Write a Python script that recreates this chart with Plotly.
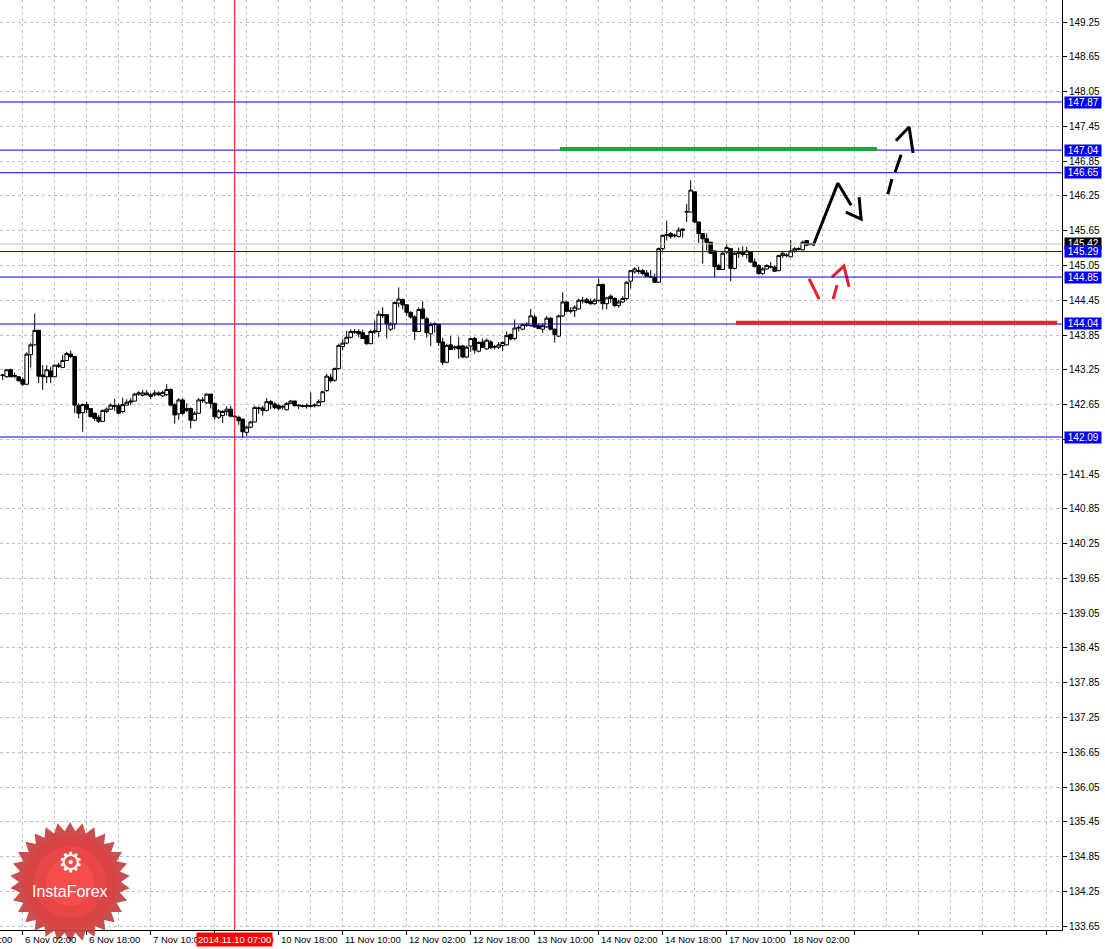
import math
import plotly.graph_objects as go

# hourly candles, bar 0 = 5 Nov 21:00 ... bar 202 = 18 Nov 07:00
opens = [
    143.15, 143.13, 143.25, 143.15, 143.13, 143.08, 143.00, 143.51, 143.68, 143.93,
    143.16, 143.13, 143.23, 143.13, 143.33, 143.29, 143.41, 143.52, 143.48, 142.63,
    142.51, 142.65, 142.58, 142.50, 142.43, 142.36, 142.53, 142.57, 142.63, 142.63,
    142.53, 142.64, 142.69, 142.71, 142.83, 142.81, 142.85, 142.79, 142.82, 142.85,
    142.80, 142.82, 142.91, 142.65, 142.49, 142.73, 142.58, 142.58, 142.38, 142.50,
    142.73, 142.68, 142.83, 142.67, 142.43, 142.46, 142.53, 142.57, 142.45, 142.43,
    142.40, 142.17, 142.26, 142.35, 142.58, 142.59, 142.55, 142.70, 142.66, 142.63,
    142.62, 142.56, 142.67, 142.71, 142.64, 142.63, 142.62, 142.63, 142.63, 142.63,
    142.70, 142.89, 143.12, 143.07, 143.27, 143.65, 143.71, 143.81, 143.91, 143.91,
    143.89, 143.84, 143.70, 143.90, 143.91, 144.20, 144.20, 143.95, 144.04, 144.40,
    144.46, 144.37, 144.24, 144.16, 143.91, 144.30, 144.13, 143.87, 144.03, 144.03,
    143.73, 143.38, 143.68, 143.63, 143.66, 143.66, 143.47, 143.66, 143.79, 143.57,
    143.73, 143.61, 143.73, 143.64, 143.64, 143.67, 143.68, 143.86, 143.79, 143.97,
    143.95, 144.03, 144.01, 144.16, 144.01, 143.95, 143.99, 144.14, 143.95, 143.83,
    144.18, 144.42, 144.26, 144.27, 144.30, 144.45, 144.46, 144.43, 144.39, 144.45,
    144.72, 144.39, 144.52, 144.48, 144.36, 144.42, 144.48, 144.78, 144.94, 144.96,
    144.96, 144.92, 144.86, 144.84, 144.76, 145.34, 145.57, 145.60, 145.56, 145.55,
    145.68, 145.97, 145.97, 146.32, 145.80, 145.60, 145.51, 145.45, 145.30, 145.05,
    144.98, 145.28, 145.34, 145.00, 145.26, 145.28, 145.24, 145.28, 145.11, 145.05,
    144.91, 144.99, 145.02, 145.02, 144.96, 145.22, 145.23, 145.20, 145.30, 145.34,
    145.32, 145.48, 145.41,
]
highs = [
    143.18, 143.26, 143.27, 143.20, 143.14, 143.12, 143.55, 143.71, 144.22, 143.93,
    143.33, 143.33, 143.30, 143.34, 143.37, 143.51, 143.56, 143.58, 143.49, 142.67,
    142.67, 142.70, 142.58, 142.51, 142.47, 142.56, 142.60, 142.67, 142.75, 142.67,
    142.77, 142.74, 142.76, 142.85, 142.88, 142.90, 142.90, 142.85, 142.90, 142.88,
    142.89, 143.00, 142.93, 142.67, 142.76, 142.76, 142.67, 142.60, 142.53, 142.76,
    142.78, 142.84, 142.83, 142.68, 142.57, 142.56, 142.62, 142.63, 142.47, 142.46,
    142.40, 142.29, 142.37, 142.63, 142.62, 142.63, 142.76, 142.73, 142.69, 142.66,
    142.64, 142.69, 142.73, 142.72, 142.66, 142.65, 142.67, 142.86, 142.67, 142.74,
    142.89, 143.18, 143.18, 143.29, 143.70, 143.78, 143.92, 143.95, 143.95, 143.95,
    143.94, 143.85, 143.94, 144.10, 144.27, 144.33, 144.21, 144.07, 144.43, 144.67,
    144.48, 144.38, 144.26, 144.19, 144.33, 144.43, 144.16, 144.07, 144.07, 144.05,
    143.80, 143.70, 143.83, 143.67, 143.82, 143.68, 143.67, 143.80, 143.82, 143.74,
    143.79, 143.79, 143.76, 143.68, 143.73, 143.74, 143.91, 143.87, 144.12, 144.02,
    144.05, 144.07, 144.30, 144.20, 144.05, 144.05, 144.18, 144.16, 143.96, 144.20,
    144.59, 144.43, 144.33, 144.36, 144.48, 144.51, 144.49, 144.48, 144.48, 144.82,
    144.74, 144.51, 144.55, 144.50, 144.46, 144.52, 144.78, 144.97, 145.02, 145.03,
    144.99, 144.97, 144.97, 144.91, 145.36, 145.58, 145.82, 145.63, 145.60, 145.71,
    145.68, 146.11, 146.52, 146.32, 145.80, 145.60, 145.60, 145.46, 145.31, 145.08,
    145.28, 145.43, 145.34, 145.28, 145.36, 145.38, 145.37, 145.30, 145.17, 145.07,
    145.02, 145.07, 145.11, 145.05, 145.23, 145.30, 145.26, 145.49, 145.37, 145.36,
    145.48, 145.49, 145.43,
]
lows = [
    143.07, 143.11, 143.12, 143.10, 143.04, 142.97, 142.99, 143.29, 143.67, 143.02,
    142.90, 143.02, 143.02, 143.12, 143.28, 143.29, 143.41, 143.45, 142.50, 142.41,
    142.18, 142.50, 142.43, 142.37, 142.33, 142.35, 142.50, 142.56, 142.54, 142.49,
    142.50, 142.64, 142.64, 142.70, 142.80, 142.79, 142.81, 142.74, 142.79, 142.80,
    142.78, 142.80, 142.62, 142.32, 142.39, 142.47, 142.52, 142.24, 142.36, 142.49,
    142.68, 142.66, 142.58, 142.39, 142.40, 142.33, 142.46, 142.43, 142.43, 142.30,
    142.08, 142.11, 142.24, 142.34, 142.49, 142.46, 142.53, 142.57, 142.57, 142.55,
    142.56, 142.55, 142.66, 142.62, 142.57, 142.60, 142.58, 142.60, 142.60, 142.62,
    142.69, 142.87, 143.03, 143.04, 143.25, 143.59, 143.69, 143.79, 143.87, 143.81,
    143.78, 143.68, 143.69, 143.87, 143.81, 144.14, 143.79, 143.92, 143.95, 144.33,
    144.29, 144.18, 144.13, 143.76, 143.90, 144.12, 143.80, 143.66, 143.89, 143.66,
    143.33, 143.36, 143.59, 143.59, 143.44, 143.45, 143.45, 143.56, 143.53, 143.55,
    143.63, 143.60, 143.61, 143.60, 143.61, 143.57, 143.67, 143.76, 143.76, 143.91,
    143.93, 143.99, 143.99, 143.97, 143.95, 143.89, 143.97, 143.93, 143.72, 143.82,
    144.16, 144.24, 144.22, 144.16, 144.29, 144.39, 144.39, 144.37, 144.37, 144.42,
    144.29, 144.29, 144.41, 144.33, 144.32, 144.40, 144.45, 144.65, 144.91, 144.90,
    144.88, 144.85, 144.84, 144.75, 144.75, 145.30, 145.48, 145.51, 145.53, 145.53,
    145.53, 145.80, 145.97, 145.78, 145.44, 145.08, 145.31, 145.25, 144.85, 144.97,
    144.97, 145.25, 144.78, 144.98, 145.18, 145.20, 145.17, 145.09, 145.02, 144.89,
    144.89, 144.98, 145.00, 144.94, 144.95, 145.18, 145.19, 145.19, 145.27, 145.31,
    145.31, 145.38, 145.40,
]
closes = [
    143.16, 143.25, 143.13, 143.14, 143.06, 143.00, 143.52, 143.68, 143.93, 143.14,
    143.13, 143.25, 143.13, 143.33, 143.31, 143.41, 143.53, 143.48, 142.64, 142.50,
    142.65, 142.57, 142.44, 142.41, 142.36, 142.55, 142.57, 142.64, 142.62, 142.50,
    142.65, 142.69, 142.71, 142.83, 142.85, 142.85, 142.82, 142.82, 142.85, 142.82,
    142.86, 142.91, 142.64, 142.47, 142.73, 142.50, 142.55, 142.38, 142.50, 142.73,
    142.72, 142.83, 142.67, 142.44, 142.54, 142.53, 142.57, 142.45, 142.44, 142.37,
    142.18, 142.26, 142.35, 142.60, 142.59, 142.55, 142.70, 142.66, 142.60, 142.58,
    142.61, 142.67, 142.71, 142.63, 142.63, 142.62, 142.63, 142.62, 142.64, 142.70,
    142.87, 143.14, 143.06, 143.27, 143.67, 143.71, 143.81, 143.91, 143.90, 143.87,
    143.79, 143.70, 143.91, 143.92, 144.21, 144.19, 144.04, 144.04, 144.41, 144.47,
    144.37, 144.24, 144.16, 143.91, 144.29, 144.14, 143.89, 144.03, 144.04, 143.72,
    143.38, 143.67, 143.60, 143.64, 143.61, 143.47, 143.64, 143.79, 143.59, 143.72,
    143.64, 143.76, 143.63, 143.65, 143.68, 143.72, 143.84, 143.78, 143.97, 143.98,
    144.03, 144.02, 144.18, 143.99, 143.96, 144.01, 144.14, 143.95, 143.86, 144.18,
    144.42, 144.26, 144.27, 144.33, 144.45, 144.44, 144.41, 144.39, 144.45, 144.72,
    144.39, 144.49, 144.48, 144.36, 144.42, 144.48, 144.76, 144.96, 144.99, 144.95,
    144.91, 144.86, 144.85, 144.76, 145.34, 145.57, 145.58, 145.55, 145.57, 145.66,
    145.66, 145.98, 146.35, 145.80, 145.60, 145.51, 145.45, 145.26, 145.03, 144.98,
    145.26, 145.36, 145.00, 145.26, 145.27, 145.24, 145.30, 145.11, 145.03, 144.91,
    144.99, 145.05, 145.03, 144.95, 145.22, 145.26, 145.22, 145.30, 145.34, 145.33,
    145.45, 145.40, 145.42,
]
bars = list(range(len(closes)))

# time axis labels (bar index where each label starts)
label_bars = [-11, 5, 21, 37, 53, 69, 85, 101, 117, 133, 149, 165, 181, 197]
label_text = ["5 Nov 10:00", "6 Nov 02:00", "6 Nov 18:00", "7 Nov 10:00",
              "10 Nov 02:00", "10 Nov 18:00", "11 Nov 10:00", "12 Nov 02:00",
              "12 Nov 18:00", "13 Nov 10:00", "14 Nov 02:00", "14 Nov 18:00",
              "17 Nov 10:00", "18 Nov 02:00"]

# levels drawn on the chart
level_prices = [147.87, 147.04, 146.65, 145.29, 144.85, 144.04, 142.09]
bid_price = 145.42
cursor_bar = 58
cursor_label = "2014.11.10 07:00"

green_bars = [139.3, 218.6]
green_price = 147.06
red_bars = [183.3, 263.6]
red_price = 144.06

# hand drawn arrows: (bar, price) pieces
black_solid = [[(202.6, 145.39), (208.8, 146.47), (212.1, 146.09)],
               [(210.8, 145.97), (214.6, 145.85), (214.1, 146.23)]]
black_dashed = [[(221.3, 146.28), (222.3, 146.54)],
                [(223.1, 146.66), (224.6, 146.96)],
                [(223.3, 147.20), (226.6, 147.44), (227.6, 146.99)]]
red_dashed = [[(201.6, 144.82), (204.1, 144.47)],
              [(207.6, 144.47), (208.6, 144.71)],
              [(207.3, 144.85), (210.3, 145.04), (211.6, 144.68)]]

W, H = 1105, 949
PW, PH = 1062, 930
x0 = -0.675
x1 = x0 + PW / 4.0
y0, y1 = 133.584, 149.63
FONT = "Liberation Sans, Arial, sans-serif"
NBSP = "\u00a0"


def bar_to_paper(b):
    return (b - x0) / (x1 - x0)


fig = go.Figure()

fig.add_trace(go.Candlestick(
    x=bars, open=opens, high=highs, low=lows, close=closes,
    increasing=dict(fillcolor="white", line=dict(color="black", width=1)),
    decreasing=dict(fillcolor="black", line=dict(color="black", width=1)),
    whiskerwidth=0,
    showlegend=False,
))


def pieces_xy(pieces):
    xs, ys = [], []
    for p in pieces:
        for b, v in p:
            xs.append(b)
            ys.append(v)
        xs.append(None)
        ys.append(None)
    return xs, ys


for pieces, col in [(black_solid, "black"), (black_dashed, "black"), (red_dashed, "#e8202a")]:
    xs, ys = pieces_xy(pieces)
    fig.add_trace(go.Scatter(x=xs, y=ys, mode="lines", line=dict(color=col, width=3),
                             showlegend=False, hoverinfo="skip"))

shapes = []
# bid line
shapes.append(dict(type="line", xref="paper", x0=0, x1=1, y0=bid_price, y1=bid_price,
                   line=dict(color="#c0c0c0", width=1)))
for lv in level_prices:
    shapes.append(dict(type="line", xref="paper", x0=0, x1=1, y0=lv, y1=lv,
                       line=dict(color="#0000ff", width=1)))
shapes.append(dict(type="line", x0=cursor_bar, x1=cursor_bar, yref="paper", y0=0, y1=1,
                   line=dict(color="#ff0000", width=1)))
shapes.append(dict(type="line", x0=green_bars[0], x1=green_bars[1], y0=green_price, y1=green_price,
                   line=dict(color="#1fa33c", width=4)))
shapes.append(dict(type="line", x0=red_bars[0], x1=red_bars[1], y0=red_price, y1=red_price,
                   line=dict(color="#e8262c", width=4)))

# InstaForex badge (bottom-left)
cx, cy = 70.0, 882.0


def star_path(r_out, r_in, n):
    pts = []
    for k in range(2 * n):
        r = r_out if k % 2 == 0 else r_in
        a = math.pi * k / n
        px = cx + r * math.sin(a)
        py = cy - r * math.cos(a)
        pts.append((px / PW, 1 - py / PH))
    return "M " + " L ".join(f"{a:.5f},{b:.5f}" for a, b in pts) + " Z"


shapes.append(dict(type="path", xref="paper", yref="paper", path=star_path(60, 51, 30),
                   fillcolor="rgba(200,62,62,0.92)", line=dict(width=0)))
for r, c in [(47, "rgba(218,66,66,0.95)"), (36, "rgba(234,72,72,0.95)"), (24, "rgba(248,78,76,0.95)")]:
    shapes.append(dict(type="circle", xref="paper", yref="paper",
                       x0=(cx - r) / PW, x1=(cx + r) / PW, y0=1 - (cy + r) / PH, y1=1 - (cy - r) / PH,
                       fillcolor=c, line=dict(width=0)))

annotations = []
for b, t in zip(label_bars, label_text):
    annotations.append(dict(x=bar_to_paper(b), xref="paper", y=0, yref="paper", text=t,
                            showarrow=False, xanchor="left", yanchor="top", yshift=-2, xshift=0,
                            font=dict(family=FONT, size=9.5, color="black")))
annotations.append(dict(x=cursor_bar, y=0, yref="paper", text=cursor_label, showarrow=False,
                        xanchor="center", yanchor="top", yshift=-2, bgcolor="#ff0000", borderpad=1,
                        font=dict(family=FONT, size=9.5, color="white")))
annotations.append(dict(x=1, xref="paper", y=bid_price, text=f"{NBSP}{bid_price:.2f}{NBSP}", showarrow=False,
                        xanchor="left", yanchor="middle", xshift=2, yshift=1, bgcolor="black", borderpad=0,
                        font=dict(family=FONT, size=10, color="white")))
for lv in level_prices:
    annotations.append(dict(x=1, xref="paper", y=lv, text=f"{NBSP}{lv:.2f}{NBSP}", showarrow=False,
                            xanchor="left", yanchor="middle", xshift=2, bgcolor="#0000ff", borderpad=0,
                            font=dict(family=FONT, size=10, color="white")))
annotations.append(dict(x=cx / PW, xref="paper", y=1 - 862 / PH, yref="paper", text="⚙",
                        showarrow=False, xanchor="center", yanchor="middle",
                        font=dict(family="DejaVu Sans", size=28, color="white")))
annotations.append(dict(x=cx / PW, xref="paper", y=1 - 891 / PH, yref="paper", text="InstaForex",
                        showarrow=False, xanchor="center", yanchor="middle",
                        font=dict(family=FONT, size=16, color="white")))

fig.update_layout(
    width=W, height=H, autosize=False,
    margin=dict(l=0, r=W - PW, t=0, b=H - PH),
    plot_bgcolor="white", paper_bgcolor="white",
    shapes=shapes, annotations=annotations,
    showlegend=False, boxgap=0.1, boxgroupgap=0,
    font=dict(family=FONT, size=9.5, color="black"),
    xaxis=dict(
        range=[x0, x1], rangeslider=dict(visible=False),
        tickmode="linear", tick0=5, dtick=16, ticks="outside", ticklen=4, tickcolor="black",
        showticklabels=False,
        showgrid=True, gridcolor="#c0c0c0", griddash="3px,3px", gridwidth=1,
        minor=dict(tickmode="linear", tick0=5, dtick=8, showgrid=True, gridcolor="#c0c0c0",
                   griddash="3px,3px", ticks=""),
        showline=True, linecolor="black", linewidth=1, zeroline=False,
    ),
    yaxis=dict(
        range=[y0, y1], side="right",
        tickmode="linear", tick0=133.65, dtick=0.6, tickformat=".2f",
        ticks="outside", ticklen=4, tickcolor="black",
        showgrid=True, gridcolor="#c0c0c0", griddash="3px,3px", gridwidth=1,
        showline=True, linecolor="black", linewidth=1, zeroline=False,
        tickfont=dict(family=FONT, size=10, color="black"),
    ),
)

fig.write_html("out.html", config={"displayModeBar": False},
               post_script="document.body.style.margin='0px';")
